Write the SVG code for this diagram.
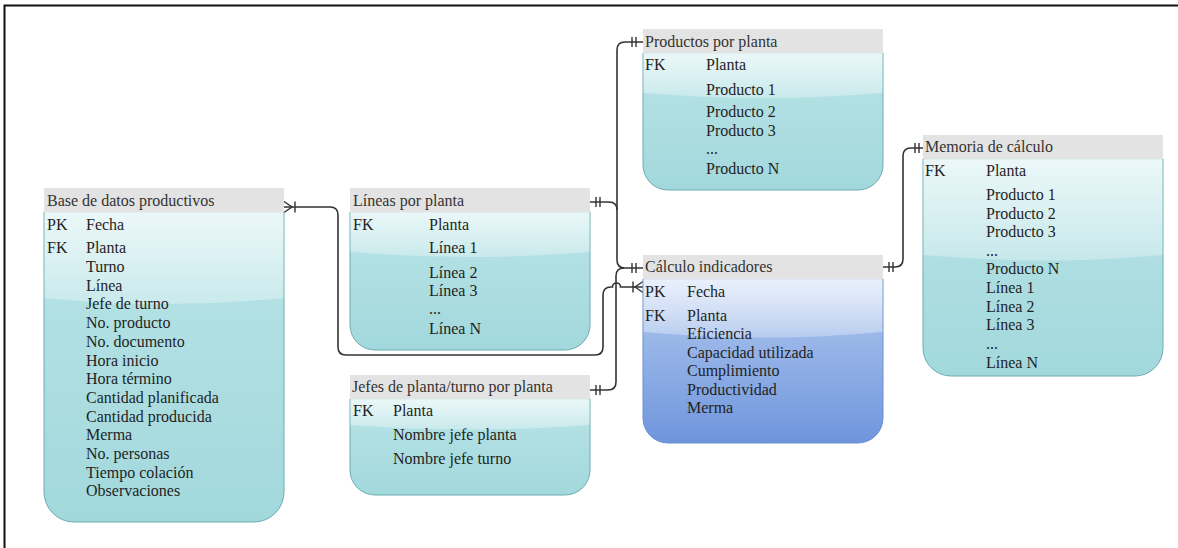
<svg xmlns="http://www.w3.org/2000/svg" width="1178" height="548" viewBox="0 0 1178 548">
  <defs>
    <linearGradient id="tealBody" x1="0" y1="0" x2="0" y2="1">
      <stop offset="0" stop-color="#b9e4e7"/>
      <stop offset="1" stop-color="#a2d8dc"/>
    </linearGradient>
    <linearGradient id="blueBody" x1="0" y1="0" x2="0" y2="1">
      <stop offset="0" stop-color="#b2caf0"/>
      <stop offset="1" stop-color="#6f95dc"/>
    </linearGradient>
    <linearGradient id="gloss" x1="0" y1="0" x2="0" y2="1">
      <stop offset="0" stop-color="#ffffff" stop-opacity="0.72"/>
      <stop offset="1" stop-color="#ffffff" stop-opacity="0.3"/>
    </linearGradient>
  </defs>
  <style>
    .frame { stroke: #111; stroke-width: 2; fill: none; }
    .body-teal { fill: url(#tealBody); stroke: #6aaeb2; stroke-width: 1; }
    .body-blue { fill: url(#blueBody); stroke: #6a8fd0; stroke-width: 1; }
    .gloss { fill: url(#gloss); }
    .head { fill: #e3e3e3; }
    text { font-family: "Liberation Serif", "Times New Roman", serif; font-size: 16px; fill: #1f1f1f; }
    .title { fill: #333; }
    .wire { fill: none; stroke: #333; stroke-width: 1.6; }
    .mark { fill: none; stroke: #333; stroke-width: 1.4; }
  </style>

  <!-- page frame -->
  <path class="frame" d="M4.5,548 V5.5 H1178"/>

  <!-- connectors -->
  <g id="connectors">
    <!-- Base de datos productivos -> Cálculo indicadores (crosses the Jefes line with a hop) -->
    <path class="wire" d="M284,207 H330 Q338,207 338,215 V347 Q338,355 346,355 H595 Q603,355 603,347 V295 Q603,287 611,287 H612.5 A4,4 0 0 1 620.5,287 H643"/>
    <path class="mark" d="M284,201.5 L292,207 L284,212.5 M295,201.5 V212.5"/>
    <path class="mark" d="M643,281.5 L635,287 L643,292.5 M633,281.5 V292.5"/>

    <!-- Productos por planta -> Cálculo indicadores -->
    <path class="wire" d="M643,42 H625 Q617,42 617,50 V260 Q617,268 625,268 H643"/>
    <path class="mark" d="M632,37 V47 M636,37 V47"/>

    <!-- Líneas por planta -> shared trunk -->
    <path class="wire" d="M590,202 H609 Q617,202 617,210"/>
    <path class="mark" d="M596,197 V207 M600,197 V207"/>

    <!-- Jefes de planta/turno por planta -> Cálculo indicadores -->
    <path class="wire" d="M590,390 H608 Q616,390 616,382 V276 Q616,268 624,268"/>
    <path class="mark" d="M596,385 V395 M600,385 V395"/>

    <!-- ends at Cálculo indicadores -->
    <path class="mark" d="M632,263 V273 M636,263 V273"/>

    <!-- Cálculo indicadores -> Memoria de cálculo -->
    <path class="wire" d="M883,267 H895 Q903,267 903,259 V156 Q903,148 911,148 H923"/>
    <path class="mark" d="M889,262 V272 M893,262 V272"/>
    <path class="mark" d="M915,143 V153 M919,143 V153"/>
  </g>

  <!-- Base de datos productivos -->
  <g id="base-datos-productivos">
    <path class="body-teal" d="M44,212 H284 V492 A30,30 0 0 1 254,522 H74 A30,30 0 0 1 44,492 Z"/>
    <path class="gloss" d="M44.5,212 H283.5 V298 Q164,310 44.5,298 Z"/>
    <rect class="head" x="44" y="188" width="240" height="24"/>
    <text class="title" x="47" y="206">Base de datos productivos</text>
    <text x="47" y="230">PK</text><text x="86" y="230">Fecha</text>
    <text x="47" y="253">FK</text><text x="86" y="253">Planta</text>
    <text x="86" y="272">Turno</text>
    <text x="86" y="290.7">Línea</text>
    <text x="86" y="309.4">Jefe de turno</text>
    <text x="86" y="328.1">No. producto</text>
    <text x="86" y="346.8">No. documento</text>
    <text x="86" y="365.5">Hora inicio</text>
    <text x="86" y="384.2">Hora término</text>
    <text x="86" y="402.9">Cantidad planificada</text>
    <text x="86" y="421.6">Cantidad producida</text>
    <text x="86" y="440.3">Merma</text>
    <text x="86" y="459">No. personas</text>
    <text x="86" y="477.7">Tiempo colación</text>
    <text x="86" y="496.4">Observaciones</text>
  </g>

  <!-- Líneas por planta -->
  <g id="lineas-por-planta">
    <path class="body-teal" d="M350,212 H590 V325 A25,25 0 0 1 565,350 H375 A25,25 0 0 1 350,325 Z"/>
    <path class="gloss" d="M350.5,212 H589.5 V252 Q470,262 350.5,252 Z"/>
    <rect class="head" x="350" y="188" width="240" height="24"/>
    <text class="title" x="353" y="206">Líneas por planta</text>
    <text x="353" y="230">FK</text><text x="429" y="230">Planta</text>
    <text x="429" y="253">Línea 1</text>
    <text x="429" y="278">Línea 2</text>
    <text x="429" y="296">Línea 3</text>
    <text x="429" y="314">...</text>
    <text x="429" y="334">Línea N</text>
  </g>

  <!-- Productos por planta -->
  <g id="productos-por-planta">
    <path class="body-teal" d="M643,53 H883 V165 A25,25 0 0 1 858,190 H668 A25,25 0 0 1 643,165 Z"/>
    <path class="gloss" d="M643.5,53 H882.5 V93 Q763,103 643.5,93 Z"/>
    <rect class="head" x="643" y="29" width="240" height="24"/>
    <text class="title" x="645" y="47">Productos por planta</text>
    <text x="645" y="70">FK</text><text x="706" y="70">Planta</text>
    <text x="706" y="95">Producto 1</text>
    <text x="706" y="117">Producto 2</text>
    <text x="706" y="135.5">Producto 3</text>
    <text x="706" y="154">...</text>
    <text x="706" y="174">Producto N</text>
  </g>

  <!-- Cálculo indicadores -->
  <g id="calculo-indicadores">
    <path class="body-blue" d="M643,279 H883 V418 A25,25 0 0 1 858,443 H668 A25,25 0 0 1 643,418 Z"/>
    <path class="gloss" d="M643.5,279 H882.5 V332 Q763,343 643.5,332 Z"/>
    <rect class="head" x="643" y="255" width="240" height="24"/>
    <text class="title" x="645" y="272">Cálculo indicadores</text>
    <text x="645" y="297">PK</text><text x="687" y="297">Fecha</text>
    <text x="645" y="321">FK</text><text x="687" y="321">Planta</text>
    <text x="687" y="339">Eficiencia</text>
    <text x="687" y="357.5">Capacidad utilizada</text>
    <text x="687" y="376">Cumplimiento</text>
    <text x="687" y="394.5">Productividad</text>
    <text x="687" y="413">Merma</text>
  </g>

  <!-- Memoria de cálculo -->
  <g id="memoria-de-calculo">
    <path class="body-teal" d="M923,159 H1163 V348 A28,28 0 0 1 1135,376 H951 A28,28 0 0 1 923,348 Z"/>
    <path class="gloss" d="M923.5,159 H1162.5 V255 Q1043,266 923.5,255 Z"/>
    <rect class="head" x="923" y="135" width="240" height="24"/>
    <text class="title" x="925" y="152">Memoria de cálculo</text>
    <text x="925" y="176">FK</text><text x="986" y="176">Planta</text>
    <text x="986" y="200">Producto 1</text>
    <text x="986" y="218.5">Producto 2</text>
    <text x="986" y="237">Producto 3</text>
    <text x="986" y="255.5">...</text>
    <text x="986" y="274">Producto N</text>
    <text x="986" y="293">Línea 1</text>
    <text x="986" y="311.5">Línea 2</text>
    <text x="986" y="330">Línea 3</text>
    <text x="986" y="349">...</text>
    <text x="986" y="368">Línea N</text>
  </g>

  <!-- Jefes de planta/turno por planta -->
  <g id="jefes-por-planta">
    <path class="body-teal" d="M350,399 H590 V470 A25,25 0 0 1 565,495 H375 A25,25 0 0 1 350,470 Z"/>
    <path class="gloss" d="M350.5,399 H589.5 V425 Q470,434 350.5,425 Z"/>
    <rect class="head" x="350" y="375" width="240" height="24"/>
    <text class="title" x="352" y="392">Jefes de planta/turno por planta</text>
    <text x="353" y="416">FK</text><text x="393" y="416">Planta</text>
    <text x="393" y="440">Nombre jefe planta</text>
    <text x="393" y="464">Nombre jefe turno</text>
  </g>
</svg>
